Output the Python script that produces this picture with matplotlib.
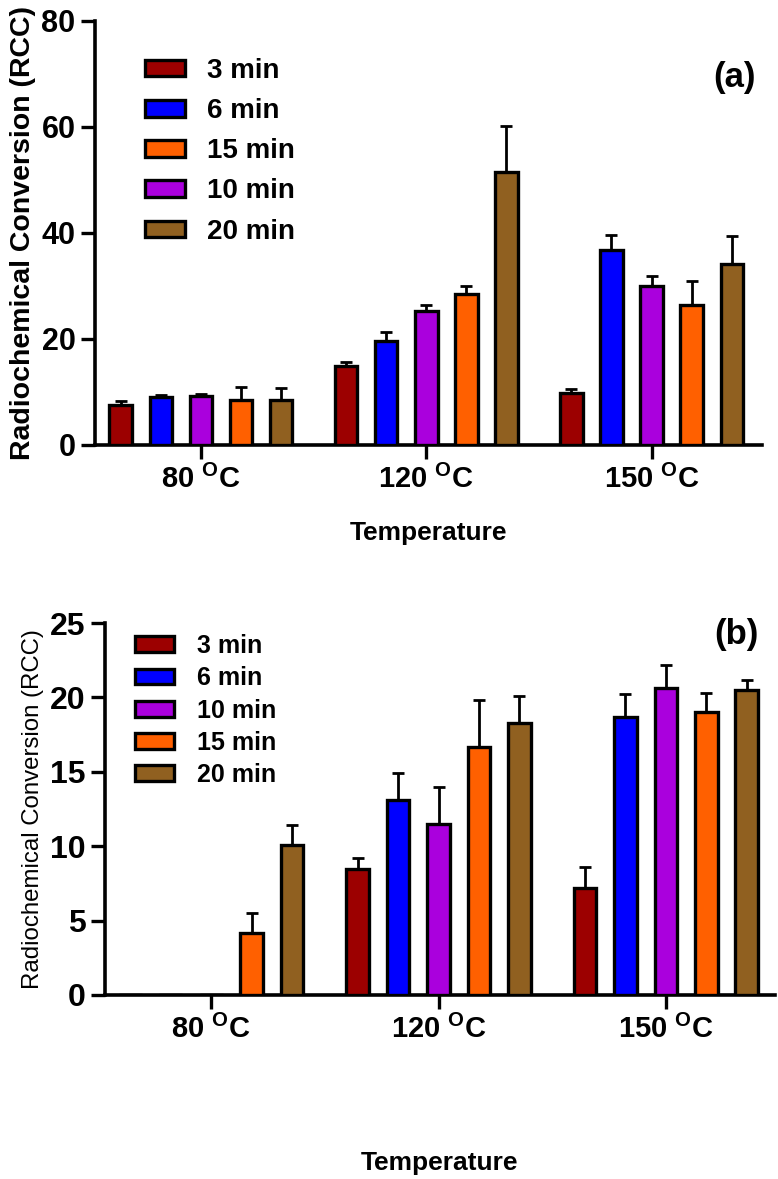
import numpy as np
import matplotlib
matplotlib.use('Agg')
import matplotlib.pyplot as plt

plt.rcParams['font.family'] = ['Liberation Sans', 'DejaVu Sans']

temps = ['80 $\\mathregular{^{O}}$C', '120 $\\mathregular{^{O}}$C', '150 $\\mathregular{^{O}}$C']
times = ['3 min', '6 min', '10 min', '15 min', '20 min']
colors = ['#9c0000', '#0000ff', '#aa00dd', '#ff6000', '#906020']

# panel (a): rows = time, cols = temperature
rcc_a = [[7.6, 15.0, 9.8],
         [9.0, 19.6, 36.8],
         [9.3, 25.3, 30.0],
         [8.4, 28.5, 26.5],
         [8.4, 51.5, 34.2]]
err_a = [[0.7, 0.7, 0.7],
         [0.4, 1.8, 2.9],
         [0.4, 1.2, 1.9],
         [2.5, 1.5, 4.4],
         [2.4, 8.6, 5.2]]

# panel (b)
rcc_b = [[0.0, 8.5, 7.2],
         [0.0, 13.1, 18.7],
         [0.0, 11.5, 20.6],
         [4.2, 16.7, 19.0],
         [10.1, 18.3, 20.5]]
err_b = [[0.0, 0.7, 1.4],
         [0.0, 1.8, 1.5],
         [0.0, 2.5, 1.6],
         [1.3, 3.1, 1.3],
         [1.3, 1.8, 0.7]]


def draw(ax, vals, errs, ylim, yticks, tick_fs, ylab_fs, ylab_w, xlim_l, xlim_r, xlab_y):
    x = np.arange(len(temps))
    off = 0.178
    handles = []
    for i, t in enumerate(times):
        xi = x + (i - 2) * off
        v = np.array(vals[i])
        e = np.array(errs[i])
        b = ax.bar(xi, v, width=0.1, color=colors[i], edgecolor='black',
                   linewidth=2.4, label=t, zorder=3)
        ax.errorbar(xi, v, yerr=[np.zeros_like(e), e], fmt='none', ecolor='black',
                    elinewidth=2.0, capsize=4.5, capthick=2.0, zorder=2)
        handles.append(b)
    ax.set_xlim(xlim_l, xlim_r)
    ax.set_ylim(*ylim)
    ax.set_yticks(yticks)
    ax.set_xticks(x)
    ax.set_xticklabels(temps, fontsize=21, fontweight='bold')
    for lab in ax.get_yticklabels():
        lab.set_fontsize(tick_fs)
        lab.set_fontweight('bold')
    ax.spines['top'].set_visible(False)
    ax.spines['right'].set_visible(False)
    ax.spines['left'].set_linewidth(2.6)
    ax.spines['bottom'].set_linewidth(2.6)
    ax.tick_params(axis='both', direction='out', length=10, width=2.4, pad=4)
    ax.set_ylabel('Radiochemical Conversion (RCC)', fontsize=ylab_fs, fontweight=ylab_w)
    ax.set_xlabel('Temperature', fontsize=19, fontweight='bold')
    ax.xaxis.set_label_coords(0.5, xlab_y)
    return handles


fig = plt.figure(figsize=(7.78, 11.79), dpi=100)
ax1 = fig.add_axes([95 / 778, 1 - 445 / 1179, 667 / 778, 424 / 1179])
ax2 = fig.add_axes([105 / 778, 1 - 995 / 1179, 670 / 778, 372 / 1179])

h1 = draw(ax1, rcc_a, err_a, (0, 80), [0, 20, 40, 60, 80], 22, 20.5, 'bold',
          -0.47, 2.49, -(521 - 445) / 424)
h2 = draw(ax2, rcc_b, err_b, (0, 25), [0, 5, 10, 15, 20, 25], 23, 17.3, 'normal',
          -0.467, 2.48, -(1151 - 995) / 372)

# legend in (a) lists 15 min before 10 min, as in the source figure
order_a = [0, 1, 3, 2, 4]
leg1 = ax1.legend([h1[i] for i in order_a], [times[i] for i in order_a],
                  loc='upper left', bbox_to_anchor=(145 / 778, 1 - 58 / 1179),
                  bbox_transform=fig.transFigure, frameon=False,
                  handlelength=1.44, handleheight=0.54, handletextpad=0.8,
                  labelspacing=0.51, borderpad=0, borderaxespad=0,
                  prop={'weight': 'bold', 'size': 20})
leg2 = ax2.legend(h2, times, loc='upper left', bbox_to_anchor=(135 / 778, 1 - 634 / 1179),
                  bbox_transform=fig.transFigure, frameon=False,
                  handlelength=1.56, handleheight=0.6, handletextpad=0.92,
                  labelspacing=0.33, borderpad=0, borderaxespad=0,
                  prop={'weight': 'bold', 'size': 18})

ax1.text(0.99, 0.866, '(a)', transform=ax1.transAxes, fontsize=25,
         fontweight='bold', ha='right', va='center')
ax2.text(0.975, 0.968, '(b)', transform=ax2.transAxes, fontsize=25,
         fontweight='bold', ha='right', va='center')

fig.savefig('out.png', dpi=100)
